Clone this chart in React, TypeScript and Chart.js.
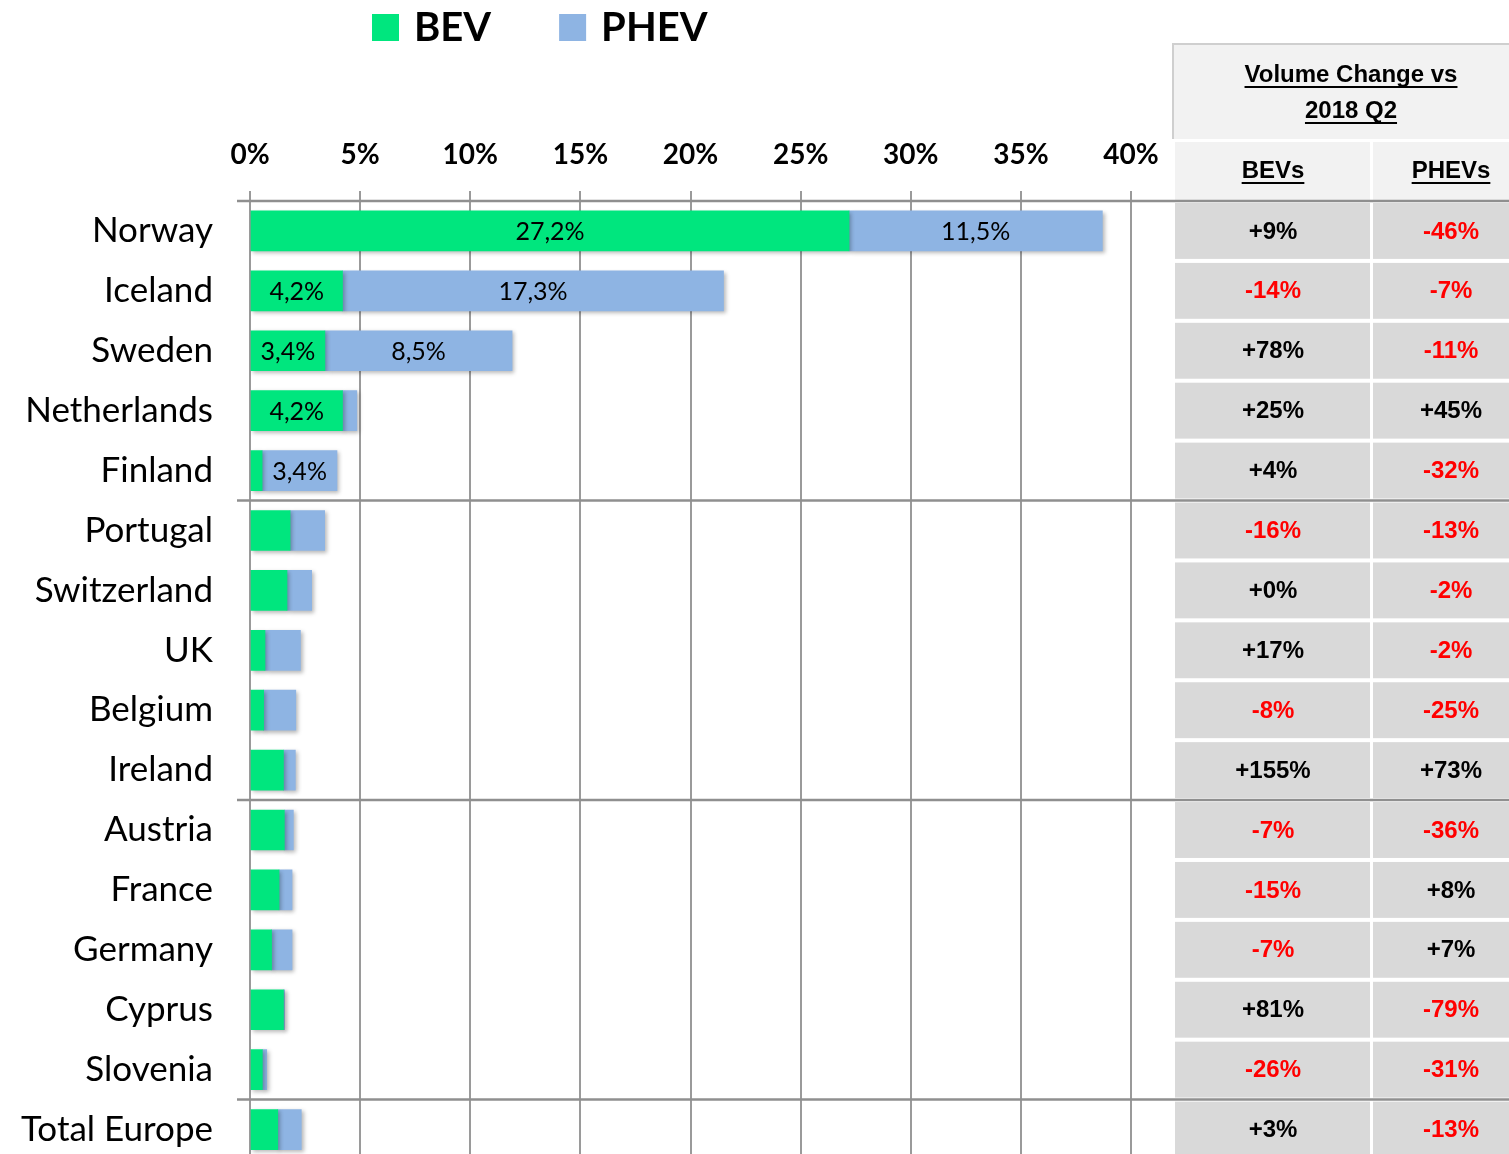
import React, { useEffect, useRef } from 'react';
import { Chart, registerables } from 'chart.js';

Chart.register(...registerables);

const countries = [
  'Norway', 'Iceland', 'Sweden', 'Netherlands', 'Finland',
  'Portugal', 'Switzerland', 'UK', 'Belgium', 'Ireland',
  'Austria', 'France', 'Germany', 'Cyprus', 'Slovenia', 'Total Europe',
];
const bevShare = [27.2, 4.2, 3.4, 4.2, 0.55, 1.82, 1.68, 0.68, 0.62, 1.52, 1.56, 1.32, 0.98, 1.52, 0.56, 1.26];
const phevShare = [11.5, 17.3, 8.5, 0.65, 3.4, 1.57, 1.12, 1.61, 1.46, 0.54, 0.41, 0.59, 0.93, 0.05, 0.2, 1.07];
const bevLabels = ['27,2%', '4,2%', '3,4%', '4,2%', '', '', '', '', '', '', '', '', '', '', '', ''];
const phevLabels = ['11,5%', '17,3%', '8,5%', '', '3,4%', '', '', '', '', '', '', '', '', '', '', ''];
const xTickLabels = ['0%', '5%', '10%', '15%', '20%', '25%', '30%', '35%', '40%'];
const bevChange = [9, -14, 78, 25, 4, -16, 0, 17, -8, 155, -7, -15, -7, 81, -26, 3];
const phevChange = [-46, -7, -11, 45, -32, -13, -2, -2, -25, 73, -36, 8, 7, -79, -31, -13];
const groupStarts = [0, 5, 10, 15];
const tableTitle = ['Volume Change vs', '2018 Q2'];
const tableHeaders = ['BEVs', 'PHEVs'];

const BEV_COLOR = '#00E67E';
const PHEV_COLOR = '#8EB4E3';
const TABLE_FONT = 'bold 24px "Liberation Sans", Arial, sans-serif';

const fmtChange = (v: number) => (v >= 0 ? '+' : '') + v + '%';

function underlinedText(ctx: CanvasRenderingContext2D, text: string, cx: number, cy: number) {
  ctx.fillText(text, cx, cy);
  const w = ctx.measureText(text).width;
  ctx.fillRect(cx - w / 2, cy + 11, w, 2);
}

const shadowPlugin = {
  id: 'barShadow',
  beforeDatasetsDraw(chart: any) {
    const ctx = chart.ctx;
    ctx.save();
    ctx.shadowColor = 'rgba(0,0,0,0.28)';
    ctx.shadowBlur = 4;
    ctx.shadowOffsetX = 2;
    ctx.shadowOffsetY = 2;
  },
  afterDatasetsDraw(chart: any) {
    chart.ctx.restore();
  },
};

const overlayPlugin = {
  id: 'overlay',
  afterDraw(chart: any) {
    const ctx: CanvasRenderingContext2D = chart.ctx;
    const yScale = chart.scales.y;
    const n = countries.length;
    const band = (yScale.bottom - yScale.top) / n;
    ctx.save();

    // Data labels inside bars
    const labelSets = [bevLabels, phevLabels];
    ctx.font = '25px Lato, sans-serif';
    ctx.fillStyle = '#000';
    ctx.textAlign = 'center';
    ctx.textBaseline = 'middle';
    labelSets.forEach((labels, di) => {
      const meta = chart.getDatasetMeta(di);
      meta.data.forEach((el: any, i: number) => {
        if (!labels[i]) return;
        const cx = (el.x + el.base) / 2;
        ctx.fillText(labels[i], cx, el.y + 1);
      });
    });

    // Table: title block
    const tLeft = 1173;
    const tRight = 1509;
    const colSplit = 1371.5;
    ctx.fillStyle = '#F2F2F2';
    ctx.fillRect(tLeft, 44, tRight - tLeft, 95);
    ctx.strokeStyle = '#CFCFCF';
    ctx.lineWidth = 2;
    ctx.beginPath();
    ctx.moveTo(tLeft, 139);
    ctx.lineTo(tLeft, 44);
    ctx.lineTo(tRight, 44);
    ctx.stroke();

    // header row
    const hTop = 142;
    const hBottom = yScale.top - 1;
    ctx.fillStyle = '#F2F2F2';
    ctx.fillRect(tLeft + 2, hTop, colSplit - 1.5 - (tLeft + 2), hBottom - hTop);
    ctx.fillRect(colSplit + 1.5, hTop, tRight - colSplit - 1.5, hBottom - hTop);

    const bevCx = 1273;
    const phevCx = 1451;
    ctx.fillStyle = '#000';
    ctx.font = TABLE_FONT;
    underlinedText(ctx, tableTitle[0], 1351, 75);
    underlinedText(ctx, tableTitle[1], 1351, 111);
    underlinedText(ctx, tableHeaders[0], bevCx, 171);
    underlinedText(ctx, tableHeaders[1], phevCx, 171);

    // data rows
    for (let i = 0; i < n; i++) {
      const top = yScale.top + i * band;
      ctx.fillStyle = '#D9D9D9';
      ctx.fillRect(tLeft + 2, top + 2, colSplit - 1.5 - (tLeft + 2), band - 4);
      ctx.fillRect(colSplit + 1.5, top + 2, tRight - colSplit - 1.5, band - 4);
      const cy = yScale.getPixelForValue(i);
      ctx.fillStyle = bevChange[i] < 0 ? '#FF0000' : '#000';
      ctx.fillText(fmtChange(bevChange[i]), bevCx, cy + 1);
      ctx.fillStyle = phevChange[i] < 0 ? '#FF0000' : '#000';
      ctx.fillText(fmtChange(phevChange[i]), phevCx, cy + 1);
    }

    // group separators (incl. axis line)
    ctx.strokeStyle = '#8F8F8F';
    ctx.lineWidth = 2.5;
    groupStarts.forEach((g) => {
      const yy = yScale.top + g * band;
      ctx.beginPath();
      ctx.moveTo(237, yy);
      ctx.lineTo(tRight, yy);
      ctx.stroke();
    });

    // legend
    let lx = 372;
    ctx.textAlign = 'left';
    ctx.font = 'bold 40px Lato, sans-serif';
    chart.data.datasets.forEach((ds: any) => {
      ctx.fillStyle = ds.backgroundColor;
      ctx.fillRect(lx, 14, 27, 27);
      ctx.fillStyle = '#000';
      ctx.fillText(ds.label, lx + 42, 28);
      lx += 42 + ctx.measureText(ds.label).width + 68;
    });

    ctx.restore();
  },
};

export default function App() {
  const canvasRef = useRef<HTMLCanvasElement | null>(null);

  useEffect(() => {
    document.body.style.margin = '0';
    document.body.style.overflow = 'hidden';
    const canvas = canvasRef.current;
    if (!canvas) return;
    const chart = new Chart(canvas, {
      type: 'bar',
      data: {
        labels: countries,
        datasets: [
          { label: 'BEV', data: bevShare, backgroundColor: BEV_COLOR, barThickness: 40, borderWidth: 0 },
          { label: 'PHEV', data: phevShare, backgroundColor: PHEV_COLOR, barThickness: 40, borderWidth: 0 },
        ],
      },
      options: {
        indexAxis: 'y',
        responsive: false,
        animation: false,
        layout: { padding: { left: 0, right: 378, top: 0, bottom: 0 } },
        plugins: { legend: { display: false }, tooltip: { enabled: false } },
        scales: {
          x: {
            position: 'top',
            stacked: true,
            min: 0,
            max: 40,
            ticks: {
              stepSize: 5,
              autoSkip: false,
              maxRotation: 0,
              padding: 19,
              color: '#000',
              font: { family: 'Lato, sans-serif', weight: 'bold', size: 28 },
              callback: (_v: any, i: number) => xTickLabels[i],
            },
            grid: { color: '#9A9A9A', lineWidth: 2, tickLength: 10, drawTicks: true },
            border: { display: false },
            afterFit: (s: any) => { s.height = 201; },
          },
          y: {
            stacked: true,
            ticks: {
              autoSkip: false,
              padding: 0,
              color: '#000',
              font: { family: 'Lato, sans-serif', size: 35, lineHeight: 0.2 },
            },
            grid: { display: false, drawTicks: true, tickLength: 37 },
            border: { display: false },
            afterFit: (s: any) => { s.width = 250; },
          },
        },
      } as any,
      plugins: [shadowPlugin, overlayPlugin],
    });
    return () => chart.destroy();
  }, []);

  return (
    <div style={{ position: 'absolute', left: 0, top: 0, width: 1509, height: 1154, overflow: 'hidden', background: '#fff' }}>
      <canvas ref={canvasRef} width={1509} height={1163} style={{ display: 'block' }} />
    </div>
  );
}
